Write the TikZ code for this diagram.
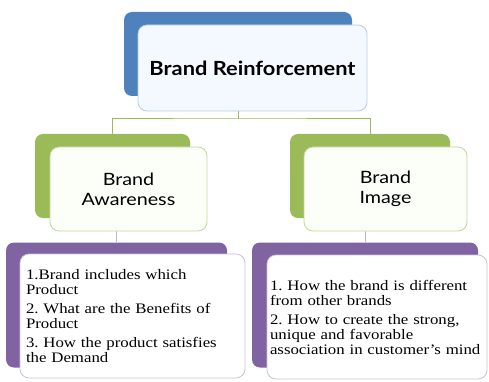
\documentclass[tikz,border=0pt]{standalone}
\usepackage{fontspec}
\setmainfont{Liberation Serif}
\newfontfamily\headfont[FakeStretch=1.16]{Lato}
\newfontfamily\topfont[FakeStretch=1.12]{Lato}
\newfontfamily\bodyfont[FakeStretch=1.16]{Liberation Serif}
\frenchspacing
\usetikzlibrary{backgrounds}
\definecolor{cblue}{RGB}{79,129,189}
\definecolor{cbluefront}{RGB}{244,249,255}
\definecolor{cblueline}{RGB}{184,204,228}
\definecolor{cgreen}{RGB}{155,187,89}
\definecolor{cgreenline}{RGB}{195,214,155}
\definecolor{cgreenfront}{RGB}{252,254,248}
\definecolor{cpurple}{RGB}{128,100,162}
\definecolor{cpurpleline}{RGB}{204,193,218}
\definecolor{cconn}{RGB}{155,187,89}
\definecolor{cconnp}{RGB}{190,176,214}
\tikzset{
  backbox/.style={rectangle, rounded corners=8pt, inner sep=0pt},
  frontbox/.style={rectangle, rounded corners=9pt, inner sep=0pt, line width=0.8pt},
  headtxt/.style={font=\headfont\fontsize{17}{20}\selectfont, align=center},
  bodytxt/.style={font=\bodyfont\frenchspacing\fontsize{14.5}{15}\selectfont, align=left},
  conn/.style={draw=cconn, line width=1pt},
  connp/.style={draw=cconnp, line width=0.9pt}
}
\begin{document}
\begin{tikzpicture}[x=1pt,y=-1pt]
\useasboundingbox (0,0) rectangle (489,382);
% top
\node[backbox, fill=cblue, minimum width=228pt, minimum height=84pt] (tb) at (238,54) {};
\node[frontbox, fill=cbluefront, draw=cblueline, minimum width=229pt, minimum height=86pt,
      font=\topfont\bfseries\fontsize{19.5}{22}\selectfont] (tf) at (252.5,68) {Brand Reinforcement};
% green
\node[backbox, fill=cgreen, minimum width=155pt, minimum height=84pt] (lgb) at (112.5,176) {};
\node[frontbox, fill=cgreenfront, draw=cgreenline, minimum width=157pt, minimum height=84pt, headtxt] (lgf) at (128.5,189) {Brand\\Awareness};
\node[backbox, fill=cgreen, minimum width=160pt, minimum height=84pt] (rgb) at (370,176) {};
\node[frontbox, fill=cgreenfront, draw=cgreenline, minimum width=163pt, minimum height=84pt, headtxt] (rgf) at (385.5,189) {Brand\\Image};
% purple
\node[backbox, fill=cpurple, minimum width=221pt, minimum height=125pt] (lpb) at (116.5,305) {};
\node[frontbox, fill=white, draw=cpurpleline, minimum width=225pt, minimum height=124pt,
      bodytxt, text width=213pt] (lpf) at (132.5,316) {1.Brand includes which\\Product\\[4pt]2. What are the Benefits of\\Product\\[4pt]3. How the product satisfies\\the Demand};
\node[backbox, fill=cpurple, minimum width=226pt, minimum height=125pt] (rpb) at (365,305) {};
\node[frontbox, fill=white, draw=cpurpleline, minimum width=220pt, minimum height=124pt,
      bodytxt, text width=214pt] (rpf) at (377,317) {1. How the brand is different\\from other brands\\[4pt]2. How to create the strong,\\unique and favorable\\association in customer’s mind};
% connectors
\coordinate (j) at (238,119);
\begin{scope}[on background layer]
  \draw[conn] (tb) -- (j);
  \draw[conn] (lgb) |- (j) -| (rgb);
  \draw[connp] (lgb.center -| lpb) -- (lpb);
  \draw[connp] (rgb.center -| rpb) -- (rpb);
\end{scope}
\end{tikzpicture}
\end{document}
